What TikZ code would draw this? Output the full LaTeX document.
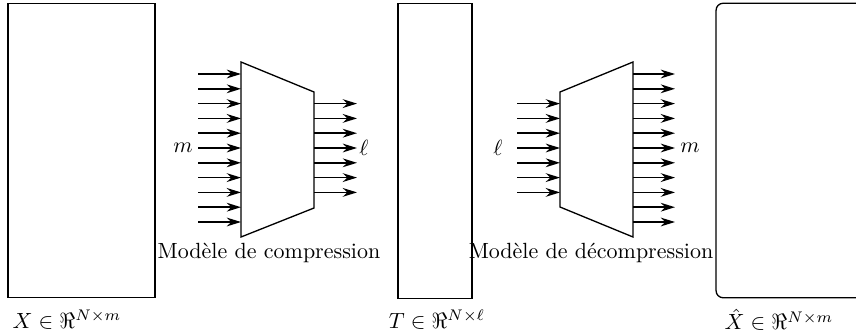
\documentclass[tikz,border=0pt]{standalone}
\usepackage{amsmath,amssymb}
\usepackage{tikz}
\usetikzlibrary{arrows.meta, positioning, calc}
\tikzset{
  matbox/.style={
    draw, line width=0.6pt, inner sep=0pt,
    minimum width=#1, minimum height=134pt
  },
  arrow/.style={-{Stealth[length=6.5pt, width=4pt]}, line width=0.65pt},
  trap/.style={draw, line width=0.6pt},
  caption/.style={font=\normalsize, inner sep=1pt}
}

\begin{document}
\begin{tikzpicture}[x=0.455pt, y=-0.455pt]
  \useasboundingbox (0,0) rectangle (856,336);
  % matrices
  \node[matbox=67pt] (xmat) at (81.5,150.5) {};
  \node[matbox=33.7pt] (tmat) at (435,151) {};
  \node[matbox=70pt, rounded corners=3.2pt] (xhat) at (793,150.5) {};
  \node[caption] (xlab) at (67,320) {$X\in\Re^{N\times m}$};
  \node[caption] (tlab) at (437,320) {$T\in\Re^{N\times \ell}$};
  \node[caption] (hlab) at (779,320) {$\hat{X}\in\Re^{N\times m}$};

  % compression model
  \draw[trap] (241,62) coordinate (encA) -- (314,92) -- (314,208) -- (241,237) -- cycle;
  \coordinate (encin) at (241,148);
  \coordinate (encout) at (314,148);
  \foreach \k in {-5,...,5}
    \draw[arrow] ($(encin)+(-43,\k*14.8)$) -- ($(encin)+(0,\k*14.8)$);
  \foreach \k in {-3,...,3}
    \draw[arrow] ($(encout)+(0,\k*14.8)$) -- ($(encout)+(43,\k*14.8)$);
  \node (encm) at (183,148) {$m$};
  \node (encl) at (364,148) {$\ell$};
  \node[caption] (enclab) at (269,253) {Modèle de compression};

  % decompression model
  \draw[trap] (560,92) -- (633,62) coordinate (decA) -- (633,237) -- (560,207) -- cycle;
  \coordinate (decin) at (560,148);
  \coordinate (decout) at (633,148);
  \foreach \k in {-3,...,3}
    \draw[arrow] ($(decin)+(-43,\k*14.8)$) -- ($(decin)+(0,\k*14.8)$);
  \foreach \k in {-5,...,5}
    \draw[arrow] ($(decout)+(0,\k*14.8)$) -- ($(decout)+(42,\k*14.8)$);
  \node (decl) at (498,148) {$\ell$};
  \node (decm) at (690,148) {$m$};
  \node[caption] (declab) at (591,253) {Modèle de décompression};
\end{tikzpicture}
\end{document}
